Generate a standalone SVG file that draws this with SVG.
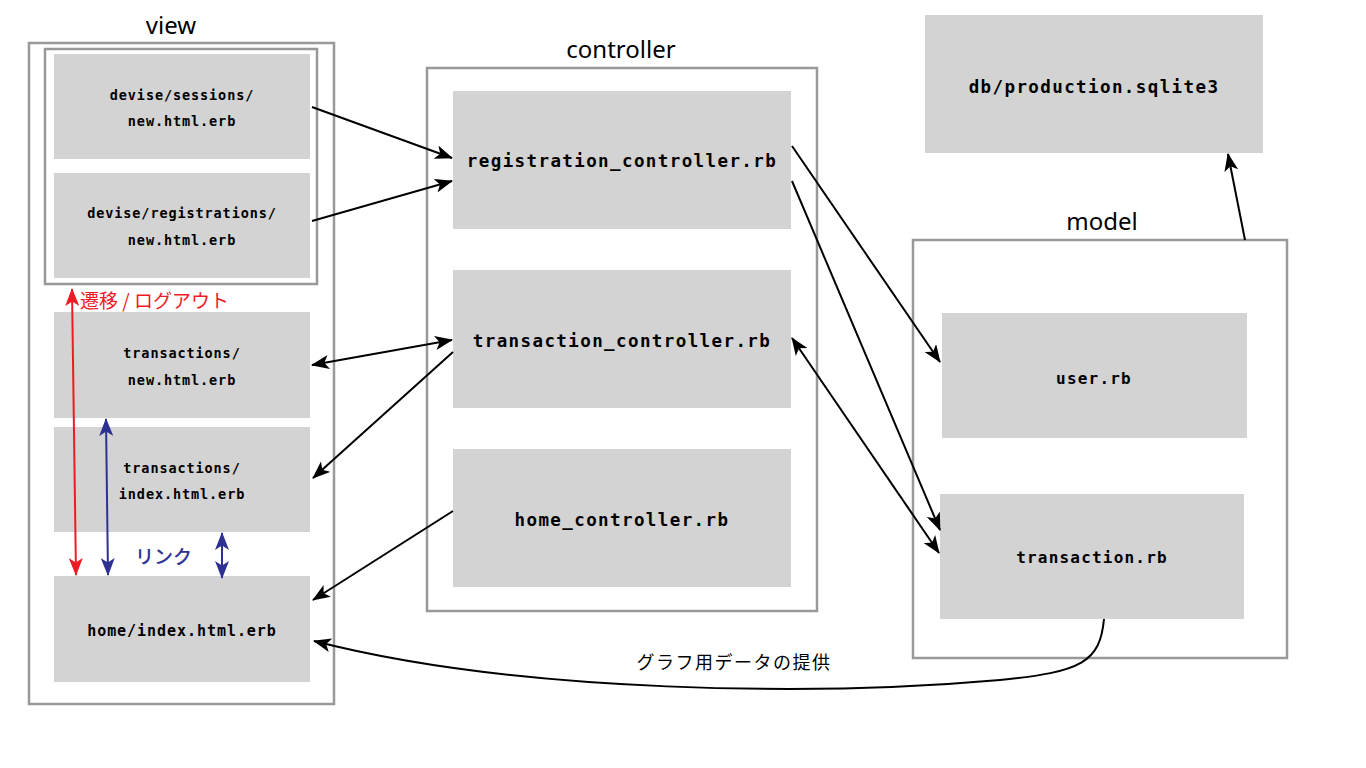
<svg xmlns="http://www.w3.org/2000/svg" width="1366" height="768" viewBox="0 0 1366 768">
<style>
.frame{fill:none;stroke:#999999;stroke-width:2.5}
.node{fill:#d3d3d3}
.t{font-family:"DejaVu Sans Mono","Liberation Mono",monospace;font-weight:bold;fill:#000;text-anchor:middle}
.s{font-size:13.5px;letter-spacing:0.9px}
.m{font-size:16px;letter-spacing:1.2px}
.l{font-size:17.5px;letter-spacing:1.4px}
.title{font-family:"Noto Sans","Liberation Sans",sans-serif;font-size:24px;fill:#000;text-anchor:middle}
.jp{font-family:"Noto Sans CJK JP","Noto Sans",sans-serif}
.c{fill:none;stroke:#000;stroke-width:2}
</style>
<defs>
<marker id="ab" viewBox="0 0 18 14" markerUnits="userSpaceOnUse" markerWidth="18" markerHeight="14" refX="17" refY="7" orient="auto-start-reverse"><path d="M0,0 L18,7 L0,14 L4.5,7 z" fill="#000"/></marker>
<marker id="ar" viewBox="0 0 18 14" markerUnits="userSpaceOnUse" markerWidth="18" markerHeight="14" refX="17" refY="7" orient="auto-start-reverse"><path d="M0,0 L18,7 L0,14 L4.5,7 z" fill="#ed1c24"/></marker>
<marker id="au" viewBox="0 0 18 14" markerUnits="userSpaceOnUse" markerWidth="18" markerHeight="14" refX="17" refY="7" orient="auto-start-reverse"><path d="M0,0 L18,7 L0,14 L4.5,7 z" fill="#2e3192"/></marker>
</defs>
<rect width="1366" height="768" fill="#fff"/>

<g id="view">
<rect class="frame" x="29" y="43" width="305" height="661"/>
<text class="title" x="171" y="34">view</text>
<rect class="frame" x="45" y="49" width="272" height="235"/>
</g>
<g id="controller">
<rect class="frame" x="427" y="68" width="390" height="543"/>
<text class="title" x="621" y="58">controller</text>
</g>
<g id="model">
<rect class="frame" x="913" y="240" width="374" height="418"/>
<text class="title" x="1102" y="230">model</text>
</g>

<g id="n-sessions"><rect class="node" x="54" y="54" width="256" height="105"/><text class="t s" x="182" y="100">devise/sessions/</text><text class="t s" x="182" y="126">new.html.erb</text></g>
<g id="n-registrations"><rect class="node" x="54" y="173" width="256" height="105"/><text class="t s" x="182" y="218">devise/registrations/</text><text class="t s" x="182" y="245">new.html.erb</text></g>
<g id="n-tnew"><rect class="node" x="54" y="312" width="256" height="106"/><text class="t s" x="182" y="358">transactions/</text><text class="t s" x="182" y="385">new.html.erb</text></g>
<g id="n-tindex"><rect class="node" x="54" y="427" width="256" height="105"/><text class="t s" x="182" y="473">transactions/</text><text class="t s" x="182" y="499">index.html.erb</text></g>
<g id="n-home"><rect class="node" x="54" y="576" width="256" height="106"/><text class="t" style="font-size:15px;letter-spacing:0.95px" x="182" y="636">home/index.html.erb</text></g>

<g id="n-regctl"><rect class="node" x="453" y="91" width="338" height="138"/><text class="t l" x="622" y="167">registration_controller.rb</text></g>
<g id="n-trctl"><rect class="node" x="453" y="270" width="338" height="138"/><text class="t l" x="622" y="347">transaction_controller.rb</text></g>
<g id="n-homectl"><rect class="node" x="453" y="449" width="338" height="138"/><text class="t l" x="622" y="526">home_controller.rb</text></g>

<g id="n-db"><rect class="node" x="925" y="15" width="338" height="138"/><text class="t l" x="1094" y="93">db/production.sqlite3</text></g>
<g id="n-user"><rect class="node" x="942" y="313" width="305" height="125"/><text class="t m" x="1094" y="384">user.rb</text></g>
<g id="n-transaction"><rect class="node" x="940" y="494" width="304" height="125"/><text class="t m" x="1092" y="563">transaction.rb</text></g>

<g id="connectors">
<line class="c" x1="312" y1="107" x2="452" y2="158" marker-end="url(#ab)"/>
<line class="c" x1="312" y1="221" x2="452" y2="181" marker-end="url(#ab)"/>
<line class="c" x1="312" y1="365" x2="452" y2="340" marker-start="url(#ab)" marker-end="url(#ab)"/>
<line class="c" x1="453" y1="352" x2="313" y2="478" marker-end="url(#ab)"/>
<line class="c" x1="453" y1="511" x2="313" y2="600" marker-end="url(#ab)"/>
<line class="c" x1="792" y1="146" x2="940" y2="362" marker-end="url(#ab)"/>
<line class="c" x1="792" y1="181" x2="940" y2="530" marker-end="url(#ab)"/>
<line class="c" x1="792" y1="338" x2="939" y2="553" marker-start="url(#ab)" marker-end="url(#ab)"/>
<line class="c" x1="1245" y1="240" x2="1228" y2="154" marker-end="url(#ab)"/>
<path class="c" d="M1104,619 C1100,662 1082,672 1000,680 C820,696 520,694 314,641" marker-end="url(#ab)"/>
<line x1="72" y1="289" x2="76" y2="575" stroke="#ed1c24" stroke-width="2" marker-start="url(#ar)" marker-end="url(#ar)"/>
<line x1="106" y1="419" x2="108" y2="575" stroke="#2e3192" stroke-width="2" marker-start="url(#au)" marker-end="url(#au)"/>
<line x1="222" y1="533" x2="222" y2="578" stroke="#2e3192" stroke-width="2" marker-start="url(#au)" marker-end="url(#au)"/>
<text class="jp" x="80" y="308" style="font-size:19px;fill:#ed1c24">遷移 / ログアウト</text>
<text class="jp" x="135" y="564" style="font-size:19px;font-weight:500;fill:#2e3192">リンク</text>
<text class="jp" x="734" y="669" style="font-size:18px;letter-spacing:1.5px;fill:#000;text-anchor:middle">グラフ用データの提供</text>
</g>
</svg>
